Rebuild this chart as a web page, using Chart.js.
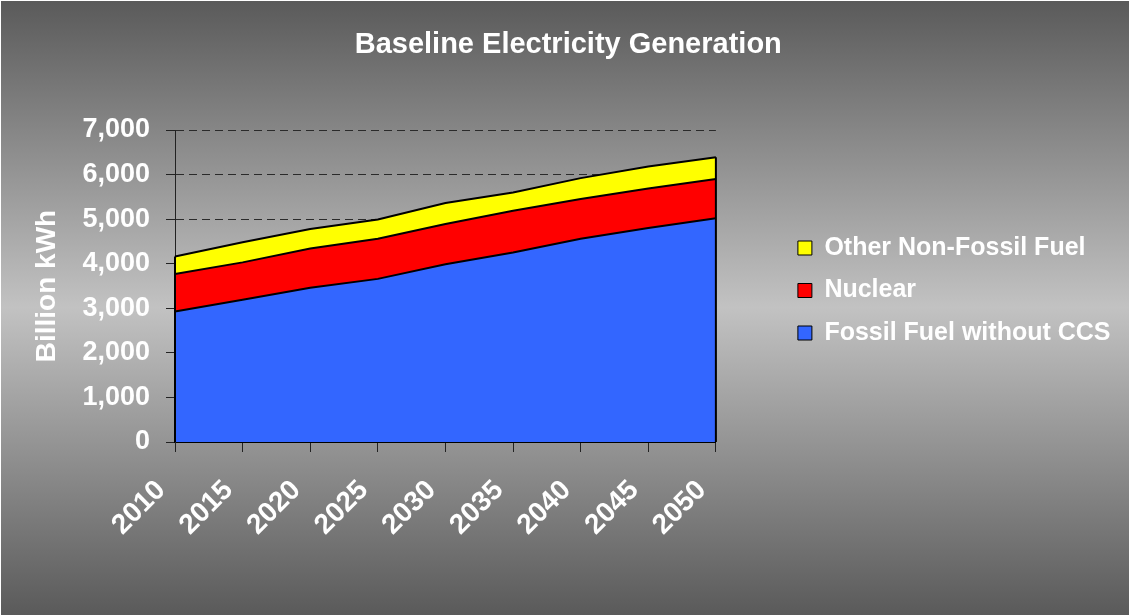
<!DOCTYPE html>
<html>
<head>
<meta charset="utf-8">
<script src="https://cdn.jsdelivr.net/npm/chart.js@4/dist/chart.umd.min.js"></script>
<style>
  html, body { margin: 0; padding: 0; }
  body { width: 1129px; height: 615px; overflow: hidden;
    background: linear-gradient(to bottom, #5a5a5a 0%, #c2c2c2 50%, #5a5a5a 100%); }
  #wrap { position: absolute; left: 0; top: 0; width: 1129px; height: 615px;
    border-left: 1px solid #ffffff; border-top: 1px solid #ffffff; box-sizing: border-box; }
  canvas { position: absolute; left: 0; top: 0; }
</style>
</head>
<body>
<div id="wrap"></div>
<canvas id="c" width="1129" height="615" style="width:1129px;height:615px"></canvas>
<script>
const years = ['2010', '2015', '2020', '2025', '2030', '2035', '2040', '2045', '2050'];
const fossilNoCCS = [2930, 3190, 3460, 3660, 3990, 4250, 4560, 4800, 5020];
const nuclear = [840, 840, 880, 900, 900, 940, 890, 890, 880];
const otherNonFossil = [390, 450, 440, 430, 470, 410, 470, 490, 490];
const yTickLabels = ['0', '1,000', '2,000', '3,000', '4,000', '5,000', '6,000', '7,000'];

const FONT = '"Liberation Sans", Arial, sans-serif';

const edgePlugin = {
  id: 'areaEdges',
  afterDatasetsDraw(chart) {
    const n = chart.data.datasets.length;
    const topMeta = chart.getDatasetMeta(n - 1);
    const pts = topMeta.data;
    if (!pts || !pts.length) return;
    const y0 = chart.scales.y.getPixelForValue(0);
    const ctx = chart.ctx;
    ctx.save();
    ctx.strokeStyle = '#000000';
    ctx.lineWidth = 2;
    [pts[0], pts[pts.length - 1]].forEach(p => {
      ctx.beginPath();
      ctx.moveTo(p.x, p.y);
      ctx.lineTo(p.x, y0);
      ctx.stroke();
    });
    ctx.restore();
  }
};

new Chart(document.getElementById('c'), {
  type: 'line',
  data: {
    labels: years,
    datasets: [
      { label: 'Fossil Fuel without CCS', data: fossilNoCCS, backgroundColor: '#3366ff', borderColor: '#000000', borderWidth: 2, fill: 'origin', pointRadius: 0, tension: 0 },
      { label: 'Nuclear', data: nuclear, backgroundColor: '#ff0000', borderColor: '#000000', borderWidth: 2, fill: '-1', pointRadius: 0, tension: 0 },
      { label: 'Other Non-Fossil Fuel', data: otherNonFossil, backgroundColor: '#ffff00', borderColor: '#000000', borderWidth: 2, fill: '-1', pointRadius: 0, tension: 0 }
    ]
  },
  options: {
    responsive: false,
    animation: false,
    devicePixelRatio: 1,
    layout: { padding: { left: 16, right: 8.5, top: 0, bottom: 0 } },
    plugins: {
      title: {
        display: true,
        text: 'Baseline Electricity Generation',
        color: '#ffffff',
        font: { family: FONT, size: 29, weight: 'bold' },
        padding: { top: 28, bottom: 67.2 }
      },
      legend: {
        display: true,
        position: 'right',
        align: 'center',
        fullSize: false,
        reverse: true,
        maxWidth: 420,
        title: { display: true, text: '', font: { size: 5 }, padding: 1.5 },
        labels: {
          color: '#ffffff',
          font: { family: FONT, size: 25, weight: 'bold' },
          boxWidth: 14,
          boxHeight: 14,
          padding: 17.5,
          generateLabels(chart) {
            const items = Chart.defaults.plugins.legend.labels.generateLabels(chart);
            items.forEach(it => { it.lineWidth = 1; it.strokeStyle = '#000000'; });
            return items;
          }
        }
      },
      tooltip: { enabled: false }
    },
    scales: {
      x: {
        type: 'category',
        offset: false,
        z: 1,
        grid: { display: true, drawOnChartArea: false, drawTicks: true, tickLength: 10, tickColor: '#222222', color: '#222222', tickWidth: 1 },
        border: { display: true, color: '#000000', width: 2 },
        ticks: {
          color: '#ffffff',
          font: { family: FONT, size: 28, weight: 'bold' },
          minRotation: 45, maxRotation: 45, autoSkip: false, padding: 22, labelOffset: -14
        },
        afterFit(s) { s.height = 173; }
      },
      y: {
        stacked: true,
        min: 0, max: 7000,
        grid: { display: true, color: '#2a2a2a', lineWidth: 1, drawTicks: true, tickLength: 9, tickColor: '#222222', tickWidth: 1, tickBorderDash: [] },
        border: { display: true, color: '#222222', width: 1, dash: [8, 5] },
        ticks: {
          stepSize: 1000,
          color: '#ffffff',
          font: { family: FONT, size: 27, weight: 'bold' },
          padding: 16,
          callback(value) { return yTickLabels[Math.round(value / 1000)]; }
        },
        title: {
          display: true,
          text: 'Billion kWh',
          color: '#ffffff',
          font: { family: FONT, size: 28, weight: 'bold' },
          padding: { top: 14.7, bottom: 0 }
        },
        afterFit(s) { s.width = 159; }
      },
      spacer: {
        type: 'linear',
        position: 'right',
        display: true,
        grid: { display: false, drawTicks: false },
        border: { display: false },
        ticks: { display: false },
        title: { display: false },
        afterFit(s) { s.width = 64.5; }
      }
    }
  },
  plugins: [edgePlugin]
});
</script>
</body>
</html>
